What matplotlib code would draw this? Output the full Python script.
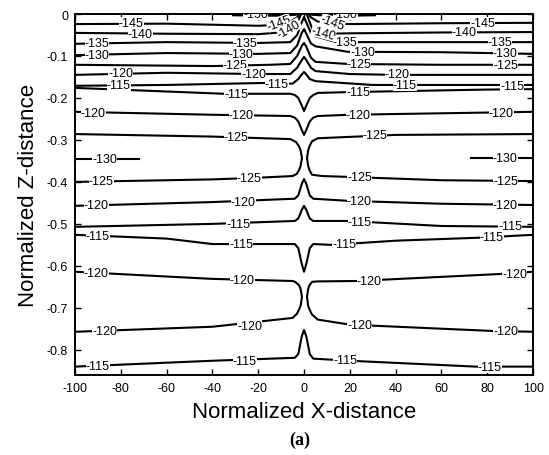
import matplotlib.pyplot as plt

plt.rcParams['font.family'] = ['Liberation Sans', 'DejaVu Sans']
plt.rcParams['axes.unicode_minus'] = False

# contour lines (x = normalized X, z = normalized Z)
c150_left_x = [-31, -20, -9.6, -4, -2]
c150_left_z = [-0.003, -0.004, -0.004, -0.002, 0.0]
c150_right_x = [2, 4, 10, 20, 31]
c150_right_z = [0.0, -0.002, -0.004, -0.004, -0.003]

c145_left_x = [-100, -60, -20, -12, -6, -3, -2]
c145_left_z = [-0.024, -0.023, -0.028, -0.026, -0.018, -0.008, 0.0]
c145_right_x = [2, 3, 6, 10, 20, 60, 100]
c145_right_z = [0.0, -0.008, -0.018, -0.022, -0.024, -0.022, -0.021]

c140_left_x = [-100, -60, -20, -8, -4, -2.5, -1.2]
c140_left_z = [-0.045, -0.047, -0.048, -0.043, -0.030, -0.015, 0.0]
c140_right_x = [1.2, 2.5, 4, 8, 20, 60, 100]
c140_right_z = [0.0, -0.020, -0.040, -0.047, -0.046, -0.044, -0.043]

c135_x = [-100, -60, -20, -6, -3, -1, 0, 1, 3, 5, 14, 60, 100]
c135_z = [-0.071, -0.067, -0.069, -0.067, -0.050, -0.020, -0.007, -0.020,
          -0.045, -0.053, -0.067, -0.067, -0.067]

c130_x = [-100, -60, -20, -6, -3, -1, 0, 1, 3, 5, 19, 60, 100]
c130_z = [-0.098, -0.093, -0.095, -0.093, -0.075, -0.045, -0.036, -0.047,
          -0.070, -0.077, -0.090, -0.091, -0.095]

c125a_x = [-100, -40, -15, -6, -3, -1, 0, 1, 3, 5, 19, 60, 100]
c125a_z = [-0.121, -0.124, -0.121, -0.119, -0.100, -0.076, -0.069, -0.078,
           -0.104, -0.114, -0.119, -0.121, -0.121]

c120a_x = [-100, -60, -20, -6, -3, -1, 0, 1, 3, 5, 20, 40, 100]
c120a_z = [-0.145, -0.140, -0.143, -0.143, -0.128, -0.110, -0.102, -0.110,
           -0.128, -0.136, -0.143, -0.145, -0.145]

c115a_x = [-100, -60, -15, -5, -2.5, -1, 0, 1, 2.5, 5, 30, 100]
c115a_z = [-0.171, -0.169, -0.164, -0.166, -0.155, -0.144, -0.138, -0.144,
           -0.155, -0.160, -0.169, -0.169]

c115b_x = [-100, -35, -6, -4, -2.5, -1, 0, 1, 2.5, 4, 6, 20, 80, 100]
c115b_z = [-0.176, -0.190, -0.190, -0.193, -0.200, -0.218, -0.231, -0.218,
           -0.200, -0.193, -0.188, -0.186, -0.180, -0.179]

c120b_x = [-100, -40, -6, -4, -2.5, -1, 0, 1, 2.5, 4, 6, 20, 100]
c120b_z = [-0.233, -0.240, -0.243, -0.247, -0.256, -0.276, -0.288, -0.276,
           -0.256, -0.247, -0.243, -0.240, -0.233]

c125b_left_x = [-100, -40, -6, -3.5, -2.2, -1.5, -0.9, -1.5, -2.2, -3.2, -5, -20, -40, -100]
c125b_left_z = [-0.286, -0.292, -0.298, -0.305, -0.315, -0.325, -0.343, -0.362,
                -0.372, -0.381, -0.386, -0.390, -0.394, -0.400]
c125b_right_x = [100, 40, 6, 3.5, 2.4, 1.8, 1.3, 1.8, 2.4, 3.5, 8, 19, 60, 100]
c125b_right_z = [-0.286, -0.288, -0.296, -0.303, -0.315, -0.325, -0.343, -0.362,
                 -0.372, -0.383, -0.386, -0.388, -0.396, -0.398]

c130_left_x = [-100, -72]
c130_left_z = [-0.345, -0.345]
c130_right_x = [73, 100]
c130_right_z = [-0.343, -0.343]

c120c_x = [-100, -40, -4, -2.5, -1, 0, 1, 2.5, 4, 19, 60, 100]
c120c_z = [-0.457, -0.448, -0.440, -0.432, -0.405, -0.393, -0.405, -0.432,
           -0.440, -0.445, -0.452, -0.455]

c115c_x = [-100, -40, -4, -2.5, -1, 0, 1, 2.5, 4, 19, 60, 100]
c115c_z = [-0.507, -0.500, -0.493, -0.487, -0.467, -0.457, -0.467, -0.487,
           -0.493, -0.493, -0.505, -0.507]

c115d_x = [-100, -60, -40, -4, -2.5, -1, 0, 1, 2.5, 4, 12, 40, 76, 100]
c115d_z = [-0.526, -0.535, -0.548, -0.548, -0.558, -0.595, -0.614, -0.595,
           -0.558, -0.548, -0.550, -0.540, -0.533, -0.526]

c120d_left_x = [-100, -40, -5, -3.9, -2.2, -1.5, -0.9, -1.5, -2.2, -3.1, -5, -40, -100]
c120d_left_z = [-0.614, -0.631, -0.636, -0.638, -0.646, -0.655, -0.674, -0.695,
                -0.704, -0.714, -0.724, -0.745, -0.757]
c120d_right_x = [100, 87, 23, 6, 3.5, 2.4, 1.8, 1.3, 1.8, 2.4, 3.5, 6, 20, 82, 100]
c120d_right_z = [-0.614, -0.619, -0.636, -0.637, -0.638, -0.646, -0.655, -0.674,
                 -0.695, -0.704, -0.716, -0.728, -0.740, -0.755, -0.757]

c115e_x = [-100, -40, -4, -2.5, -1, 0, 1, 2.5, 4, 20, 75, 100]
c115e_z = [-0.840, -0.826, -0.819, -0.810, -0.768, -0.753, -0.768, -0.810,
           -0.821, -0.826, -0.840, -0.840]

# inline contour labels
label_x = [-21, 18, -75.5, -11, 12.5, 78, -71.6, -6.5, 8.5, 70,
           -90.4, -25.8, 18, 85.6, -90.4, -27.5, 25.5, 87.8, -30, 24, 88,
           -80, -22, 40.6, -81, -12, 44, 91, -29.7, 23.6,
           -92, -27.5, 23.6, 86, -29.7, 31, -87, 87.8,
           -88.6, -24, 24.4, 88, -90.8, -26.6, 24, 87.8,
           -28.8, 24.4, 90, -90, -27.5, 17.5, 82,
           -90.8, -27, 28.4, 92, -87, -23.6, 24.4, 88,
           -90, -25.8, 18, 81]
label_z = [-0.001, -0.001, -0.022, -0.021, -0.020, -0.021, -0.047, -0.035, -0.045, -0.044,
           -0.069, -0.069, -0.067, -0.067, -0.097, -0.095, -0.091, -0.094, -0.122, -0.119, -0.121,
           -0.140, -0.142, -0.144, -0.169, -0.166, -0.170, -0.171, -0.190, -0.186,
           -0.236, -0.241, -0.240, -0.235, -0.293, -0.289, -0.345, -0.343,
           -0.399, -0.391, -0.388, -0.397, -0.456, -0.448, -0.446, -0.454,
           -0.500, -0.495, -0.506, -0.529, -0.548, -0.549, -0.532,
           -0.616, -0.633, -0.636, -0.619, -0.756, -0.744, -0.741, -0.756,
           -0.839, -0.826, -0.825, -0.840]
label_text = ['-150', '-150', '-145', '-145', '-145', '-145', '-140', '-140', '-140', '-140',
              '-135', '-135', '-135', '-135', '-130', '-130', '-130', '-130', '-125', '-125', '-125',
              '-120', '-120', '-120', '-115', '-115', '-115', '-115', '-115', '-115',
              '-120', '-120', '-120', '-120', '-125', '-125', '-130', '-130',
              '-125', '-125', '-125', '-125', '-120', '-120', '-120', '-120',
              '-115', '-115', '-115', '-115', '-115', '-115', '-115',
              '-120', '-120', '-120', '-120', '-120', '-120', '-120', '-120',
              '-115', '-115', '-115', '-115']
label_rot = [0, 0, 0, 20, -20, 0, 0, 30, -15, 0] + [0] * 55

x_ticks = [-100, -80, -60, -40, -20, 0, 20, 40, 60, 80, 100]
z_ticks = [0, -0.1, -0.2, -0.3, -0.4, -0.5, -0.6, -0.7, -0.8]
z_tick_labels = ['0', '-0.1', '-0.2', '-0.3', '-0.4', '-0.5', '-0.6', '-0.7', '-0.8']

lines = [
    (c150_left_x, c150_left_z), (c150_right_x, c150_right_z),
    (c145_left_x, c145_left_z), (c145_right_x, c145_right_z),
    (c140_left_x, c140_left_z), (c140_right_x, c140_right_z),
    (c135_x, c135_z), (c130_x, c130_z), (c125a_x, c125a_z),
    (c120a_x, c120a_z), (c115a_x, c115a_z), (c115b_x, c115b_z),
    (c120b_x, c120b_z), (c125b_left_x, c125b_left_z), (c125b_right_x, c125b_right_z),
    (c130_left_x, c130_left_z), (c130_right_x, c130_right_z),
    (c120c_x, c120c_z), (c115c_x, c115c_z), (c115d_x, c115d_z),
    (c120d_left_x, c120d_left_z), (c120d_right_x, c120d_right_z),
    (c115e_x, c115e_z),
]

fig = plt.figure(figsize=(5.49, 4.56), dpi=100)
ax = fig.add_axes([0.1366, 0.1754, 0.8344, 0.7917])

for xs, zs in lines:
    ax.plot(xs, zs, color='black', lw=1.5, zorder=2)

for x, z, t, r in zip(label_x, label_z, label_text, label_rot):
    ax.text(x, z, t, fontsize=9, ha='center', va='center', rotation=r,
            bbox=dict(boxstyle='square,pad=0.0', fc='white', ec='none'),
            zorder=3, clip_on=True)

ax.set_xlim(-100, 100)
ax.set_ylim(-0.86, 0)
ax.set_xticks(x_ticks)
ax.set_yticks(z_ticks)
ax.set_yticklabels(z_tick_labels)
ax.tick_params(direction='in', length=4, width=1, labelsize=9,
               top=True, right=True, pad=5)
for s in ax.spines.values():
    s.set_linewidth(1.4)

ax.set_xlabel('Normalized X-distance', fontsize=16)
ax.set_ylabel('Normalized Z-distance', fontsize=16)
ax.xaxis.set_label_coords(0.5, -0.072)
ax.yaxis.set_label_coords(-0.078, 0.5)

fig.text(0.546, 0.035, '(a)', fontsize=13, fontweight='bold',
         family='Liberation Serif', ha='center', va='center')

fig.savefig('out.png', dpi=100)
